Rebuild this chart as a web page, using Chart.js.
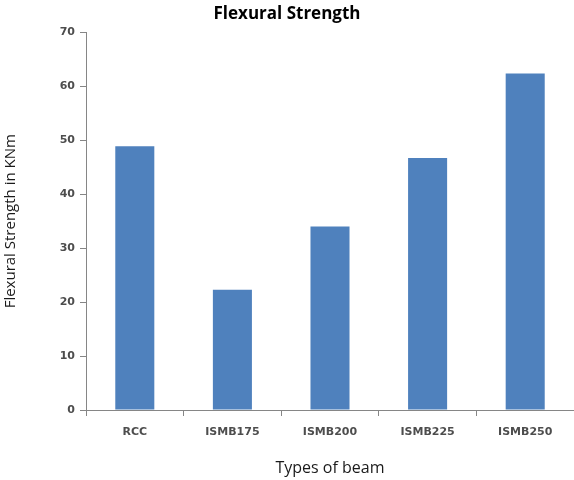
<!DOCTYPE html>
<html>
  <head>
    <title>Flexural Strength</title>
    <script src="https://cdn.jsdelivr.net/npm/chart.js@4/dist/chart.umd.min.js"></script>
    <style>
      html, body { margin: 0; padding: 0; background: #fff; }
      #wrap { width: 574px; height: 480px; }
    </style>
  </head>
  <body>
    <div id="wrap"><canvas id="canvas"></canvas></div>
    <script>
      // beam types and their flexural strength (kNm)
      const beamTypes = ['RCC', 'ISMB175', 'ISMB200', 'ISMB225', 'ISMB250'];
      const strength = [48.9, 22.3, 34.0, 46.7, 62.4];
      const yTicks = [0, 10, 20, 30, 40, 50, 60, 70];

      const axisGrey = '#868686';
      const labelFont = { family: 'DejaVu Sans', size: 11, weight: 'bold' };

      new Chart(document.getElementById('canvas').getContext('2d'), {
        type: 'bar',
        data: {
          labels: beamTypes,
          datasets: [{
            label: 'Flexural Strength',
            data: strength,
            backgroundColor: '#4F81BD',
            borderWidth: 0,
            barPercentage: 0.4,
            categoryPercentage: 1.0,
          }],
        },
        options: {
          responsive: true,
          maintainAspectRatio: false,
          animation: false,
          layout: { padding: { left: 0, right: 0, top: 0, bottom: 0 } },
          plugins: {
            legend: { display: false },
            tooltip: { enabled: false },
            title: {
              display: true,
              text: 'Flexural Strength',
              color: '#000',
              font: { family: 'Open Sans', size: 17, weight: 'bold' },
              padding: { top: 4, bottom: 8 },
            },
          },
          scales: {
            x: {
              grid: {
                offset: true,
                drawOnChartArea: false,
                drawTicks: true,
                tickLength: 6,
                color: axisGrey,
              },
              border: { color: axisGrey, width: 1 },
              ticks: { color: '#4d4d4d', font: labelFont, padding: 10 },
              title: {
                display: true,
                text: 'Types of beam',
                color: '#1a1a1a',
                font: { family: 'Open Sans', size: 16 },
                padding: { top: 4, bottom: 2 },
              },
              afterFit: (s) => { s.height = 70; },
            },
            y: {
              min: 0,
              max: 70,
              afterBuildTicks: (s) => { s.ticks = yTicks.map(v => ({ value: v })); },
              grid: {
                drawOnChartArea: false,
                drawTicks: true,
                tickLength: 6,
                color: axisGrey,
              },
              border: { color: axisGrey, width: 1 },
              ticks: { color: '#4d4d4d', font: labelFont, padding: 5 },
              title: {
                display: true,
                text: 'Flexural Strength in KNm',
                color: '#1a1a1a',
                font: { family: 'Open Sans', size: 15 },
                padding: { top: 2, bottom: 4 },
              },
              afterFit: (s) => { s.width = 86; },
            },
          },
        },
      });
    </script>
  </body>
</html>
